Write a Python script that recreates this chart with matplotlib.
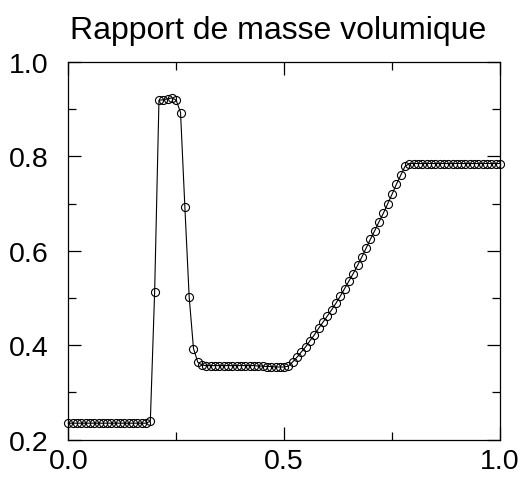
import numpy as np
import matplotlib
matplotlib.use("Agg")
import matplotlib.pyplot as plt
from matplotlib.ticker import MultipleLocator

plt.rcParams['font.family'] = ['Liberation Sans', 'DejaVu Sans']

title = "Rapport de masse volumique"

# abscisse: 101 points de 0 a 1
x = np.arange(101) / 100.0

left_state = [0.235] * 19
shock = [0.239, 0.513, 0.919, 0.920, 0.922, 0.924, 0.919, 0.893,
         0.693, 0.502, 0.393, 0.364]
plateau = [0.358, 0.357, 0.357, 0.357, 0.357, 0.357, 0.357, 0.357,
           0.357, 0.357, 0.357, 0.357, 0.357, 0.356, 0.356, 0.355,
           0.355, 0.354, 0.354, 0.354, 0.356]
fan = [0.365, 0.375, 0.386, 0.397, 0.410, 0.422, 0.436, 0.449,
       0.462, 0.475, 0.489, 0.504, 0.520, 0.536, 0.552, 0.569,
       0.587, 0.606, 0.625, 0.643, 0.662, 0.680, 0.700, 0.720,
       0.741, 0.760, 0.779]
right_state = [0.785] * 22

rho = np.array(left_state + shock + plateau + fan + right_state)

fig = plt.figure(figsize=(5.22, 4.81), dpi=100)
ax = fig.add_axes([68.3/522, 40.3/481, 431.7/522, 377.7/481])

ax.plot(x, rho, color='black', lw=0.8, marker='o', ms=5.8,
        mfc='none', mec='black', mew=0.8, clip_on=False)

ax.set_xlim(0, 1)
ax.set_ylim(0.2, 1.0)
ax.xaxis.set_major_locator(MultipleLocator(0.5))
ax.xaxis.set_minor_locator(MultipleLocator(0.25))
ax.yaxis.set_major_locator(MultipleLocator(0.2))
ax.yaxis.set_minor_locator(MultipleLocator(0.1))
ax.xaxis.set_major_formatter(matplotlib.ticker.FormatStrFormatter('%.1f'))
ax.yaxis.set_major_formatter(matplotlib.ticker.FormatStrFormatter('%.1f'))

ax.tick_params(which='both', direction='in', top=True, right=True,
               width=0.9, labelsize=20.5)
ax.tick_params(which='major', length=9.5)
ax.tick_params(which='minor', length=5.5)
ax.tick_params(axis='y', which='major', pad=14)
ax.tick_params(axis='x', which='major', pad=6)
for s in ax.spines.values():
    s.set_linewidth(0.9)

ax.set_title(title, fontsize=23, x=0.486, pad=17)

fig.savefig("out.png", dpi=100)
